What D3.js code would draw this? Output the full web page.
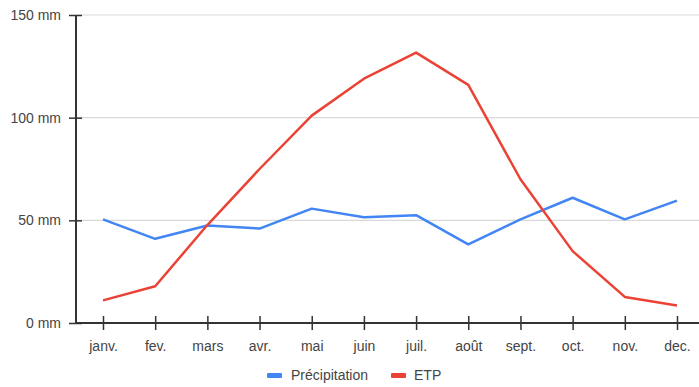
<!DOCTYPE html>
<html><head><meta charset="utf-8">
<script src="https://cdn.jsdelivr.net/npm/d3@7"></script>
<style>body{margin:0;background:#fff}svg{display:block}text{font-family:"Liberation Sans",Arial,sans-serif}</style>
</head><body>
<svg id="c" width="699" height="387"></svg>
<script>
const months = ["janv.","fev.","mars","avr.","mai","juin","juil.","août","sept.","oct.","nov.","dec."];
const precipitation = [50.5, 41, 47.5, 46, 55.7, 51.5, 52.5, 38.3, 50.5, 61, 50.5, 59.6];
const etp = [11, 17.9, 47.7, 75, 101, 119, 131.7, 116, 70, 35, 12.7, 8.5];
const yTicks = [0, 50, 100, 150];
const seriesNames = ["Précipitation", "ETP"];
const colors = ["#4285F4", "#EA4335"];

const svg = d3.select("#c");
const x = d3.scalePoint().domain(months).range([103, 677]);
const y = d3.scaleLinear().domain([0, 150]).range([323, 15]);

// gridlines
svg.append("g").selectAll("line").data(yTicks.filter(d => d > 0)).join("line")
  .attr("x1", 76).attr("x2", 699).attr("y1", d => y(d)).attr("y2", d => y(d))
  .attr("stroke", "#d9d9d9").attr("stroke-width", 1.2);

// series
const line = d3.line().x((d, i) => x(months[i])).y(d => y(d));
[precipitation, etp].forEach((s, k) => {
  svg.append("path").datum(s).attr("d", line).attr("fill", "none")
    .attr("stroke", colors[k]).attr("stroke-width", 2.5).attr("stroke-linejoin", "round");
});

// y axis
const ya = svg.append("g").attr("transform", "translate(76,0)")
  .call(d3.axisLeft(y).tickValues(yTicks).tickFormat(d => d + " mm").tickSize(7).tickPadding(8));
ya.select(".domain").remove();
ya.append("line").attr("x1", 0).attr("x2", 0).attr("y1", y(150)).attr("y2", y(0)).attr("stroke", "#333").attr("stroke-width", 2);
ya.selectAll(".tick line").attr("stroke", "#333").attr("stroke-width", 1.5).attr("x2", 6).attr("x1", -7);
ya.selectAll(".tick text").attr("fill", "#444").attr("font-size", 14).attr("x", -15);

// x axis
const xa = svg.append("g").attr("transform", "translate(0,323)")
  .call(d3.axisBottom(x).tickSize(7).tickPadding(11));
xa.select(".domain").remove();
xa.append("line").attr("x1", 75).attr("x2", 699).attr("y1", 0).attr("y2", 0).attr("stroke", "#333").attr("stroke-width", 2);
xa.selectAll(".tick line").attr("stroke", "#333").attr("stroke-width", 1.5).attr("y1", -7).attr("y2", 7);
xa.selectAll(".tick text").attr("fill", "#444").attr("font-size", 14);

// legend
const lg = svg.append("g");
const legendPos = [[267, 291], [391, 414]];
seriesNames.forEach((n, k) => {
  lg.append("rect").attr("x", legendPos[k][0]).attr("y", 373).attr("width", 15).attr("height", 5).attr("fill", colors[k]).attr("rx", 1);
  lg.append("text").attr("x", legendPos[k][1]).attr("y", 380).attr("fill", "#444").attr("font-size", 14).text(n);
});
</script>
</body></html>
